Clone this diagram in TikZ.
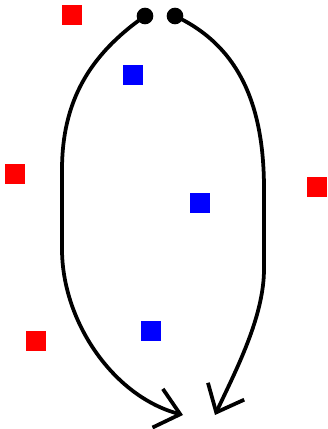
\documentclass[tikz,border=0pt]{standalone}
\usepackage{tikz}
\usetikzlibrary{arrows.meta}
\definecolor{pred}{HTML}{FF0000}
\definecolor{pblue}{HTML}{0000FF}
\tikzset{
  sq/.style  = {rectangle, minimum size=6mm, inner sep=0pt, draw=none},
  sqr/.style = {sq, fill=pred},
  sqb/.style = {sq, fill=pblue},
  dot/.style = {circle, fill=black, minimum size=5mm, inner sep=0pt},
  a/.style   = {-{Straight Barb[length=7mm,width=12mm]}, line width=3.2pt,
                line cap=round, line join=round},
}

\begin{document}
\begin{tikzpicture}[x=0.03cm, y=0.03cm]
\useasboundingbox (0,0) rectangle (327,429);

% scattered squares
\foreach \n/\x/\y in {r1/72/414, r2/15/255, r3/317/242, r4/36/88} {
  \node[sqr] (\n) at (\x,\y) {};
}
\foreach \n/\x/\y in {b1/133/354, b2/200/226, b3/151/98} {
  \node[sqb] (\n) at (\x,\y) {};
}

% start points and arrow ends
\node[dot] (ldot) at (145,413) {};
\node[dot] (rdot) at (175,413) {};
\coordinate (lend) at (183,14);
\coordinate (rend) at (215,14);

\draw[a] (ldot.center) to[out=215, in=90] (62,259) -- (62,180)
         to[out=270, in=165, looseness=0.9] (lend);
\draw[a] (rdot.center) to[out=-25, in=90] (264,240) -- (264,160)
         to[out=270, in=65, looseness=0.8] (rend);

\end{tikzpicture}
\end{document}
